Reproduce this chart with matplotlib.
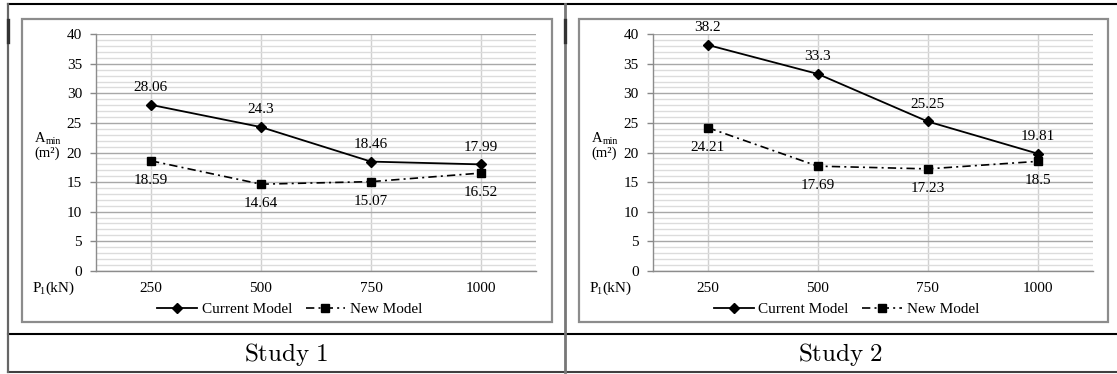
import matplotlib
matplotlib.use("Agg")
import matplotlib.pyplot as plt
from matplotlib.font_manager import FontProperties
from matplotlib.lines import Line2D
from matplotlib.patches import Rectangle

# ---- data ----
categories = ["250", "500", "750", "1000"]
study1_current = [28.06, 24.3, 18.46, 17.99]
study1_new = [18.59, 14.64, 15.07, 16.52]
study2_current = [38.2, 33.3, 25.25, 19.81]
study2_new = [24.21, 17.69, 17.23, 18.5]
y_ticks = [0, 5, 10, 15, 20, 25, 30, 35, 40]
panel_titles = ["Study 1", "Study 2"]
series_names = ["Current Model", "New Model"]

plt.rcParams['font.family'] = ['Liberation Serif', 'DejaVu Serif']
plt.rcParams['mathtext.fontset'] = 'stix'

W, H = 1117, 374
fig = plt.figure(figsize=(W / 100, H / 100), dpi=100)


def fx(px):
    return px / W


def fy(py):
    return 1 - py / H


def hline(x0, x1, y, color, lw):
    fig.add_artist(Line2D([fx(x0), fx(x1)], [fy(y), fy(y)], color=color, lw=lw,
                          transform=fig.transFigure))


def vline(x, y0, y1, color, lw):
    fig.add_artist(Line2D([fx(x), fx(x)], [fy(y0), fy(y1)], color=color, lw=lw,
                          transform=fig.transFigure))


def ftext(px, py, s, size, ha='left'):
    fig.text(fx(px), fy(py), s, ha=ha, va='baseline', fontsize=size)


# table lines
hline(8, W, 4.3, 'black', 1.5)
hline(8, W, 334.3, 'black', 1.5)
hline(8, W, 371.7, '#404040', 1.5)
vline(8, 4, 372, '#666666', 1.6)
vline(565, 4, 372, '#777777', 2.0)
vline(8, 20, 42, '#333333', 2.4)
vline(565, 20, 42, '#333333', 2.4)

dash_new = (0, (5, 2.5, 1.2, 2.5))
label_fs = 11

panels = [
    (study1_current, study1_new, 22, 551.5, 96),
    (study2_current, study2_new, 579, 1108, 652.7),
]

for i, (cur, new, bx0, bx1, axl) in enumerate(panels):
    # chart frame
    fig.add_artist(Rectangle((fx(bx0), fy(322)), fx(bx1) - fx(bx0), fy(19) - fy(322),
                             transform=fig.transFigure, fill=False,
                             edgecolor='#8c8c8c', lw=1.6))
    ax = fig.add_axes([fx(axl), fy(270.7), 440 / W, (270.7 - 34.3) / H])
    x = list(range(len(categories)))
    ax.set_xlim(-0.5, len(categories) - 0.5)
    ax.set_ylim(0, 40)
    ax.set_yticks(y_ticks)
    ax.set_yticks(range(0, 41), minor=True)
    ax.set_xticks(x)
    ax.set_xticklabels(categories)
    ax.grid(True, which='minor', axis='y', color='#dcdcdc', lw=1.0)
    ax.grid(True, which='major', axis='y', color='#a8a8a8', lw=1.0)
    ax.grid(True, which='major', axis='x', color='#d0d0d0', lw=1.0)
    ax.tick_params(axis='y', which='major', length=4.5, color='#888888', width=1,
                   labelsize=label_fs, pad=5.5)
    ax.tick_params(axis='y', which='minor', length=0)
    ax.tick_params(axis='x', length=0, labelsize=label_fs, pad=8)
    for s in ['top', 'right']:
        ax.spines[s].set_visible(False)
    for s in ['left', 'bottom']:
        ax.spines[s].set_color('#8c8c8c')
        ax.spines[s].set_linewidth(1.0)
    ax.set_axisbelow(True)

    ax.plot(x, cur, color='black', lw=1.3, marker='D', ms=4.8,
            label=series_names[0], zorder=3)
    ax.plot(x, new, color='black', lw=1.2, ls=dash_new, marker='s', ms=5.2,
            label=series_names[1], zorder=3)
    for xi, v in zip(x, cur):
        ax.annotate(f"{v:g}", (xi, v), xytext=(0, 12.5), textcoords='offset points',
                    ha='center', va='center', fontsize=label_fs, clip_on=False)
    for xi, v in zip(x, new):
        ax.annotate(f"{v:g}", (xi, v), xytext=(0, -14), textcoords='offset points',
                    ha='center', va='center', fontsize=label_fs)

    # axis labels (A_min, (m²), P1 (kN))
    ftext(bx0 + 13, 142, "A", 10.5)
    ftext(bx0 + 23.5, 144.5, "min", 7)
    ftext(bx0 + 25.5, 156.5, "(m²)", 10.5, ha='center')
    ftext(bx0 + 11, 291.5, "P", label_fs)
    ftext(bx0 + 17.5, 294, "1", 7.5)
    ftext(bx0 + 23.5, 291.5, "(kN)", label_fs)

    leg = ax.legend(loc='center', bbox_to_anchor=(fx((bx0 + bx1) / 2 + 3), fy(309.5)),
                    bbox_transform=fig.transFigure, ncol=2, frameon=False,
                    fontsize=label_fs, handlelength=2.6, handletextpad=0.3,
                    columnspacing=0.9)

    cm = FontProperties(size=18, math_fontfamily='cm')
    fig.text(fx((8 + 565) / 2 if i == 0 else (565 + W) / 2), fy(354),
             r"$\mathrm{" + panel_titles[i].replace(" ", r"\ ") + "}$",
             ha='center', va='center', fontproperties=cm)

fig.savefig("out.png", dpi=100)
